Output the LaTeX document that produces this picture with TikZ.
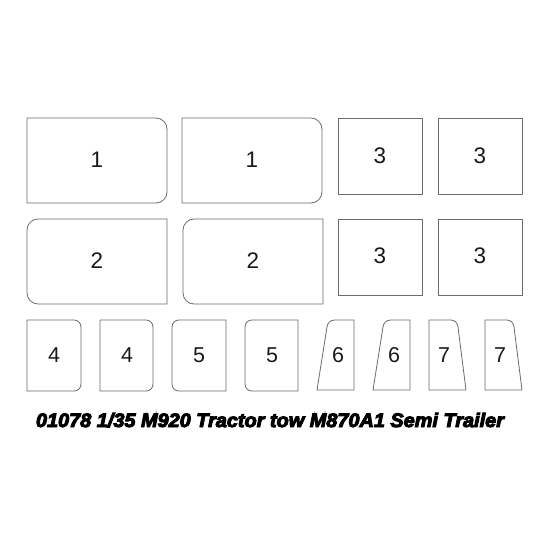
\documentclass[tikz,border=0pt]{standalone}
\usepackage{fontspec}
\setmainfont{Liberation Sans}
\newfontfamily\capfont[FakeBold=5]{Liberation Sans Bold Italic}
\begin{document}
\begin{tikzpicture}[x=1pt,y=-1pt,
  part/.style={draw=black!58,line width=0.8pt,line join=round},
  lbl/.style={font=\fontsize{22.5}{24}\selectfont,text=black!90,inner sep=0pt},
  slbl/.style={font=\fontsize{21.5}{23}\selectfont,text=black!90,inner sep=0pt}]
\useasboundingbox[fill=white] (0,0) rectangle (550,550);
% row 1
\draw[part] (27,118) -- (156,118) .. controls (162,118) and (167,123) .. (167,129) -- (167,192) .. controls (167,198) and (162,203) .. (156,203) -- (27,203) -- cycle;
\draw[part] (182,118) -- (311,118) .. controls (317,118) and (322,123) .. (322,129) -- (322,192) .. controls (322,198) and (317,203) .. (311,203) -- (182,203) -- cycle;
\draw[part] (338,118) rectangle (422,194);
\draw[part] (438,118) rectangle (522,194);
\node[lbl] (l1a) at (97,160) {1};
\node[lbl] (l1b) at (252,160) {1};
\node[lbl] (l3a) at (380,156) {3};
\node[lbl] (l3b) at (480,156) {3};
% row 2
\draw[part] (167,219) -- (167,304) -- (38,304) .. controls (32,304) and (27,299) .. (27,293) -- (27,230) .. controls (27,224) and (32,219) .. (38,219) -- cycle;
\draw[part] (323,219) -- (323,304) -- (194,304) .. controls (188,304) and (183,299) .. (183,293) -- (183,230) .. controls (183,224) and (188,219) .. (194,219) -- cycle;
\draw[part] (338,219) rectangle (422,295);
\draw[part] (438,219) rectangle (522,295);
\node[lbl] (l2a) at (97,261) {2};
\node[lbl] (l2b) at (253,261) {2};
\node[lbl] (l3c) at (380,256) {3};
\node[lbl] (l3d) at (480,256) {3};
% row 3
\draw[part] (27,320) -- (74,320) .. controls (78,320) and (81,323) .. (81,327) -- (81,384) .. controls (81,388) and (78,391) .. (74,391) -- (27,391) -- cycle;
\draw[part] (100,320) -- (146,320) .. controls (150,320) and (153,323) .. (153,327) -- (153,384) .. controls (153,388) and (150,391) .. (146,391) -- (100,391) -- cycle;
\draw[part] (226,320) -- (226,391) -- (179,391) .. controls (175,391) and (172,388) .. (172,384) -- (172,327) .. controls (172,323) and (175,320) .. (179,320) -- cycle;
\draw[part] (298,320) -- (298,391) -- (252,391) .. controls (248,391) and (245,388) .. (245,384) -- (245,327) .. controls (245,323) and (248,320) .. (252,320) -- cycle;
\draw[part] (354,320) -- (354,390) -- (317,390) -- (327,327) .. controls (327.6,323) and (330,320) .. (335,320) -- cycle;
\draw[part] (410,320) -- (410,390) -- (373,390) -- (383,327) .. controls (383.6,323) and (386,320) .. (391,320) -- cycle;
\draw[part] (429,320) -- (451,320) .. controls (455,320) and (457.4,323) .. (458,327) -- (466,390) -- (429,390) -- cycle;
\draw[part] (485,320) -- (507,320) .. controls (511,320) and (513.4,323) .. (514,327) -- (522,390) -- (485,390) -- cycle;
\node[slbl] (l4a) at (54,355) {4};
\node[slbl] (l4b) at (127,355) {4};
\node[slbl] (l5a) at (199,355) {5};
\node[slbl] (l5b) at (272,355) {5};
\node[slbl] (l6a) at (338,355) {6};
\node[slbl] (l6b) at (394,355) {6};
\node[slbl] (l7a) at (444,355) {7};
\node[slbl] (l7b) at (500,355) {7};
% caption
\node[inner sep=0pt,anchor=base,xscale=1.02] (cap) at (270,427)
  {\capfont\fontsize{19.5}{22}\selectfont 01078 1/35 M920 Tractor tow M870A1 Semi Trailer};
\end{tikzpicture}
\end{document}
